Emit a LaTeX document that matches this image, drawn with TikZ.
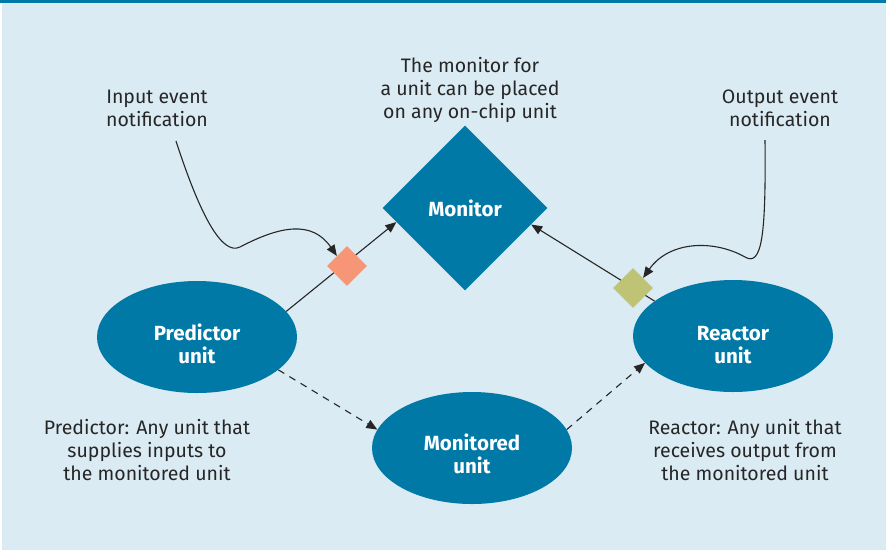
\documentclass[tikz,border=0pt]{standalone}
\usepackage{fontspec}
\setmainfont{Fira Sans}
\usetikzlibrary{shapes.geometric,arrows.meta,calc}

\definecolor{panel}{HTML}{DAEBF3}
\definecolor{unitblue}{HTML}{0079A6}
\definecolor{inmark}{HTML}{F79677}
\definecolor{outmark}{HTML}{BFC375}
\definecolor{ink}{HTML}{262626}

\tikzset{
  unit/.style={ellipse, fill=unitblue, inner sep=0pt,
    minimum width=200pt, minimum height=112pt},
  unitlabel/.style={text=white, align=center, inner sep=0pt,
    font=\fontsize{20.5}{23.5}\selectfont\bfseries},
  monitorbox/.style={diamond, fill=unitblue, text=white, inner sep=0pt,
    minimum width=165pt, minimum height=165pt,
    font=\fontsize{20.5}{23.5}\selectfont\bfseries},
  eventmark/.style={diamond, inner sep=0pt, minimum size=40pt},
  note/.style={text=ink, align=center, inner sep=0pt,
    font=\fontsize{19.5}{23}\selectfont},
  link/.style={draw=ink, line width=1.1pt, -{Triangle[length=11pt,width=9pt]}},
  flow/.style={link, dash pattern=on 7pt off 6pt}
}

\begin{document}
\begin{tikzpicture}[x=1pt, y=-1pt]
  % panel
  \fill[white] (0,0) rectangle (886,550);
  \fill[panel] (2,0) rectangle (886,550);
  \fill[unitblue] (0,0) rectangle (886,2.5);
  \useasboundingbox (0,0) rectangle (886,550);

  % units
  \node[monitorbox] (mon) at (465,208) {Monitor};
  \node[unit, label={[unitlabel, yshift=-7pt]center:Predictor\\unit}] (pred) at (197,337) {};
  \node[unit, label={[unitlabel, yshift=-9pt]center:Reactor\\unit}] (reac) at (733,336) {};
  \node[unit, label={[unitlabel, yshift=-6pt]center:Monitored\\unit}] (mond) at (472,448) {};

  % notes
  \node[note] (monnote) at (470,90) {The monitor for\\a unit can be placed\\on any on-chip unit};
  \node[note] (innote) at (157,108) {Input event\\notification};
  \node[note] (outnote) at (780,108) {Output event\\notification};
  \node[note] (prednote) at (147,450) {Predictor: Any unit that\\supplies inputs to\\the monitored unit};
  \node[note] (reacnote) at (745,450) {Reactor: Any unit that\\receives output from\\the monitored unit};

  % event connections to the monitor
  \coordinate (intip) at ($(mon.west)!0.17!(mon.south)$);
  \coordinate (outtip) at ($(mon.east)!0.2!(mon.south)$);
  \draw[link] (pred.16) -- (intip);
  \draw[link] (reac.156) -- (outtip);
  \node[eventmark, fill=inmark] (inev) at (347,266) {};
  \node[eventmark, fill=outmark] (outev) at (633,288) {};

  % data flow through the monitored unit
  \draw[flow] (pred.-22) -- (mond.169);
  \draw[flow] (mond.11) -- (reac.-163);

  % notification callouts
  \coordinate (instart) at (176,141);
  \coordinate (outstart) at (765,140);
  \draw[link] (instart) .. controls (200,215) and (222,256) .. (240,247)
    .. controls (280,226) and (312,220) .. (inev.north west);
  \draw[link] (outstart) .. controls (766,235) and (762,267) .. (745,257)
    .. controls (715,240) and (670,240) .. (outev.north east);
\end{tikzpicture}
\end{document}
